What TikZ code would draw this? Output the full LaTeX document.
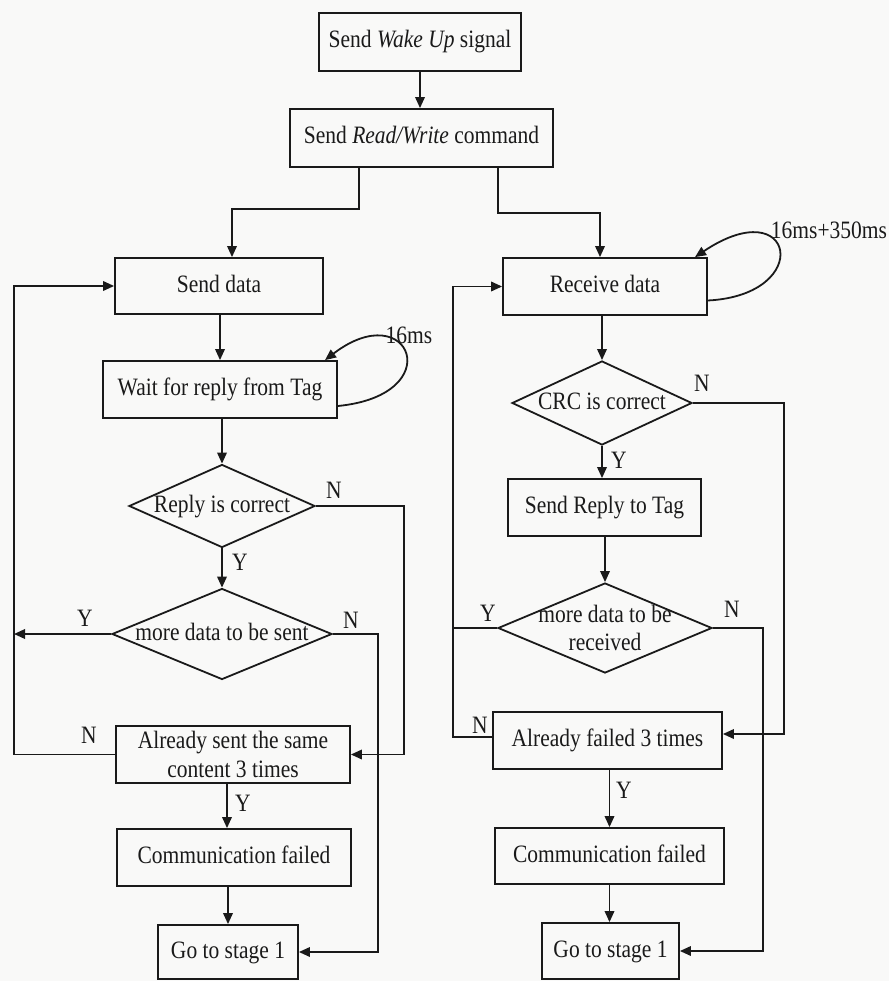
\documentclass[tikz,border=0pt]{standalone}
\usepackage{fontspec}
\setmainfont{Liberation Serif}[FakeStretch=0.86]
\usetikzlibrary{arrows.meta,shapes.geometric}
\definecolor{ink}{HTML}{1A1A1A}
\definecolor{paper}{HTML}{F9F9F8}
\begin{document}
\begin{tikzpicture}[x=1pt,y=-1pt,
  font=\fontsize{25}{28.5}\selectfont,
  every node/.style={text=ink},
  proc/.style={draw=ink, line width=1.8pt, rectangle, inner sep=0pt,
    text height=17pt, text depth=5pt},
  proctwo/.style={draw=ink, line width=1.8pt, rectangle, inner sep=0pt, align=center},
  decide/.style={draw=ink, line width=1.8pt, diamond, inner sep=0pt},
  dtext/.style={inner sep=0pt, text height=17pt, text depth=5pt, align=center},
  tag/.style={inner sep=0pt},
  line/.style={draw=ink, line width=1.8pt},
  flow/.style={line, -{Triangle[length=11pt,width=9.5pt]}},
]
% page
\fill[paper] (0,0) rectangle (889,981);
\useasboundingbox (0,0) rectangle (889,981);

% ---- common start ----
\node[proc, minimum width=202pt, minimum height=58pt] (wake) at (420,42)
  {Send \textit{Wake Up} signal};
\node[proc, minimum width=263pt, minimum height=58pt] (rw) at (421.5,138)
  {Send \textit{Read/Write} command};

% ---- sending branch ----
\node[proc, minimum width=208pt, minimum height=56pt] (sd) at (219,286) {Send data};
\node[proc, minimum width=234pt, minimum height=57pt] (wait) at (220,389.5) {Wait for reply from Tag};
\node[decide, minimum width=186pt, minimum height=83pt] (reply) at (222,506) {};
\node[dtext] (replyT) at (reply) {Reply is correct};
\node[decide, minimum width=220pt, minimum height=91pt] (more) at (222,634) {};
\node[dtext] (moreT) at (more) {more data to be sent};
\node[proctwo, minimum width=234pt, minimum height=57pt] (asent) at (233,754.5)
  {Already sent the same\\content 3 times};
\node[proc, minimum width=234pt, minimum height=57pt] (cfL) at (234,857.5) {Communication failed};
\node[proc, minimum width=140pt, minimum height=54pt] (goL) at (228,952) {Go to stage 1};

% ---- receiving branch ----
\node[proc, minimum width=204pt, minimum height=57pt] (rd) at (605,286.5) {Receive data};
\node[decide, minimum width=180pt, minimum height=84pt] (crc) at (602,403) {};
\node[dtext] (crcT) at (crc) {CRC is correct};
\node[proc, minimum width=193pt, minimum height=57pt] (srep) at (604.5,507.5) {Send Reply to Tag};
\node[decide, minimum width=214pt, minimum height=90pt] (mrec) at (605,628) {};
\node[inner sep=0pt, align=center] (mrecT) at (605,628) {more data to be\\received};
\node[proc, minimum width=229pt, minimum height=57pt] (afail) at (607.5,740.5) {Already failed 3 times};
\node[proc, minimum width=229pt, minimum height=56pt] (cfR) at (609.5,856) {Communication failed};
\node[proc, minimum width=137pt, minimum height=56pt] (goR) at (610.5,951) {Go to stage 1};

% return rails
\coordinate (lrail) at (14,286);
\coordinate (rrail) at (453,286.5);

% ---- connectors: start ----
\draw[flow] (wake.south) -- (wake.south |- rw.north);
\draw[flow] ([xshift=-62.5pt]rw.south) -- ++(0,41) -| ([xshift=13pt]sd.north);
\draw[flow] ([xshift=76.5pt]rw.south) -- ++(0,45) -| ([xshift=-5pt]rd.north);

% ---- connectors: sending ----
\draw[flow] (sd.south -| wait.north) -- (wait.north);
\draw[flow] (wait.south -| reply.north) -- (reply.north);
\draw[flow] ([yshift=-16.5pt]wait.east) .. controls (450,395) and (410,295) .. ([xshift=105pt]wait.north);
\draw[flow] (reply.south) -- (more.north);
\draw[flow] (reply.east) -- ++(88,0) |- (asent.east);
\draw[flow] (more.west) -- (more.west -| lrail);
\draw[flow] (more.east) -- ++(45,0) |- (goL.east);
\draw[flow] (asent.west) -| (lrail) -- (sd.west);
\draw[flow] ([xshift=-6pt]asent.south) -- ([xshift=-7pt]cfL.north);
\draw[flow] (cfL.south -| goL.north) -- (goL.north);

% ---- connectors: receiving ----
\draw[flow] ([yshift=-14pt]rd.east) .. controls (815,295) and (795,190) .. ([xshift=90pt]rd.north);
\draw[flow] (rd.south -| crc.north) -- (crc.north);
\draw[flow] (crc.south) -- (crc.south |- srep.north);
\draw[flow] (srep.south -| mrec.north) -- (mrec.north);
\draw[flow] (crc.east) -- ++(91,0) |- ([yshift=6.5pt]afail.east);
\draw[flow] (mrec.east) -- ++(50,0) |- (goR.east);
\draw[line] (mrec.west) -- (mrec.west -| rrail);
\draw[flow] ([yshift=3.5pt]afail.west) -| (rrail) -- (rd.west);
\draw[flow] (afail.south -| cfR.north) -- (cfR.north);
\draw[flow] (cfR.south) -- (cfR.south |- goR.north);

% ---- branch labels ----
\node[tag] (t16) at (409,335) {16ms};
\node[tag] (t366) at (829,230) {16ms+350ms};
\node[tag] (nReply) at (334,490) {N};
\node[tag] (yReply) at (240,562) {Y};
\node[tag] (yMore) at (85,618) {Y};
\node[tag] (nMore) at (351,620) {N};
\node[tag] (nSent) at (89,735) {N};
\node[tag] (ySent) at (243,803) {Y};
\node[tag] (nCrc) at (702,383) {N};
\node[tag] (yCrc) at (619,460) {Y};
\node[tag] (yRec) at (488,613) {Y};
\node[tag] (nRec) at (732,609) {N};
\node[tag] (nFail) at (480,725) {N};
\node[tag] (yFail) at (624,790) {Y};
\end{tikzpicture}
\end{document}
